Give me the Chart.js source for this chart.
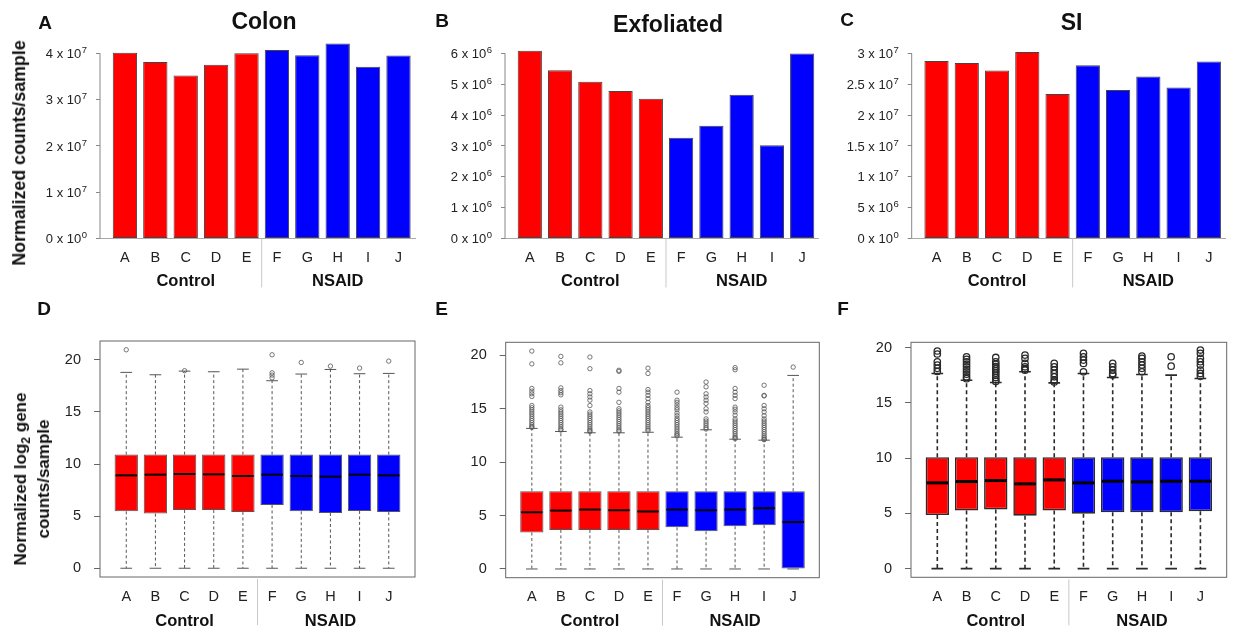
<!DOCTYPE html>
<html>
<head>
<meta charset="utf-8">
<script src="https://cdn.jsdelivr.net/npm/chart.js@4.4.1/dist/chart.umd.min.js"></script>
<style>
body { margin: 0; background: #fff; width: 1235px; height: 633px; overflow: hidden; position: relative; font-family: "Liberation Sans", Arial, sans-serif; }
canvas { position: absolute; left: 0; top: 0; }
.t { position: absolute; transform: translate(-50%, -50%); line-height: 1; font-weight: bold; color: #111; white-space: nowrap; }
.let { font-size: 19px; }
.ttl { font-size: 23px; }
.yt { font-size: 17.8px; transform: translate(-50%, -50%) rotate(-90deg); text-align: center; }
.yt2 { font-size: 17px; line-height: 23px; transform: translate(-50%, -50%) rotate(-90deg); text-align: center; }
.yt2 sub { font-size: 12px; line-height: 0; }
</style>
</head>
<body>
<canvas id="cA" width="1235" height="633"></canvas>
<canvas id="cB" width="1235" height="633"></canvas>
<canvas id="cC" width="1235" height="633"></canvas>
<canvas id="cD" width="1235" height="633"></canvas>
<canvas id="cE" width="1235" height="633"></canvas>
<canvas id="cF" width="1235" height="633"></canvas>

<div class="t let" style="left:45px;top:21.5px">A</div>
<div class="t let" style="left:442px;top:19.7px">B</div>
<div class="t let" style="left:847px;top:19.3px">C</div>
<div class="t let" style="left:44px;top:308px">D</div>
<div class="t let" style="left:441.5px;top:308px">E</div>
<div class="t let" style="left:843px;top:308px">F</div>

<div class="t ttl" style="left:264px;top:21px">Colon</div>
<div class="t ttl" style="left:668px;top:24px">Exfoliated</div>
<div class="t ttl" style="left:1071.5px;top:22px">SI</div>

<div class="t yt" style="left:20px;top:153px">Normalized counts/sample</div>
<div class="t yt2" style="left:31.5px;top:479px">Normalized log<sub>2</sub> gene<br>counts/sample</div>

<script>
//tamaño de la pagina
var W = 1235;
var H = 633;
Chart.defaults.font.family = '"Liberation Sans", Arial, sans-serif';
Chart.defaults.color = '#222';

//muestras y grupos
var samples = [ 'A', 'B', 'C', 'D', 'E', 'F', 'G', 'H', 'I', 'J' ];
var sampleGroup = [ 'Control', 'Control', 'Control', 'Control', 'Control', 'NSAID', 'NSAID', 'NSAID', 'NSAID', 'NSAID' ];
var groupNames = [ 'Control', 'NSAID' ];

//conteos normalizados por muestra (paneles A, B, C)
var colonCounts = [ 4.01e7, 3.81e7, 3.52e7, 3.75e7, 4.00e7, 4.07e7, 3.96e7, 4.21e7, 3.71e7, 3.95e7 ];
var exfoCounts = [ 6.08e6, 5.45e6, 5.08e6, 4.78e6, 4.53e6, 3.26e6, 3.65e6, 4.66e6, 3.02e6, 5.99e6 ];
var siCounts = [ 2.876e7, 2.844e7, 2.72e7, 3.02e7, 2.34e7, 2.806e7, 2.406e7, 2.622e7, 2.444e7, 2.865e7 ];

//etiquetas del eje y: mantisa y exponente
var colonTicks = [ 0, 1e7, 2e7, 3e7, 4e7 ];
var colonTickBase = [ '0 x 10', '1 x 10', '2 x 10', '3 x 10', '4 x 10' ];
var colonTickExp = [ '0', '7', '7', '7', '7' ];
var exfoTicks = [ 0, 1e6, 2e6, 3e6, 4e6, 5e6, 6e6 ];
var exfoTickBase = [ '0 x 10', '1 x 10', '2 x 10', '3 x 10', '4 x 10', '5 x 10', '6 x 10' ];
var exfoTickExp = [ '0', '6', '6', '6', '6', '6', '6' ];
var siTicks = [ 0, 5e6, 1e7, 1.5e7, 2e7, 2.5e7, 3e7 ];
var siTickBase = [ '0 x 10', '5 x 10', '1 x 10', '1.5 x 10', '2 x 10', '2.5 x 10', '3 x 10' ];
var siTickExp = [ '0', '6', '7', '7', '7', '7', '7' ];

//log2 por gen (paneles D, E, F)
var boxTicks = [ 0, 5, 10, 15, 20 ];

var colonQ1 = [ 5.46, 5.24, 5.59, 5.59, 5.40, 6.07, 5.46, 5.30, 5.50, 5.40 ];
var colonMed = [ 8.91, 8.98, 9.04, 9.01, 8.85, 8.98, 8.85, 8.79, 8.98, 8.91 ];
var colonQ3 = [ 10.9, 10.9, 10.9, 10.9, 10.9, 10.9, 10.9, 10.9, 10.9, 10.9 ];
var colonLo = [ 0, 0, 0, 0, 0, 0, 0, 0, 0, 0 ];
var colonHi = [ 18.79, 18.56, 18.91, 18.85, 19.10, 17.99, 18.63, 19.07, 18.66, 18.69 ];
var colonOut = [
  [ 20.96 ], [ ], [ 18.95 ], [ ], [ ],
  [ 18.27, 18.53, 18.75, 20.48 ], [ 19.74 ], [ 19.39 ], [ 19.2 ], [ 19.87 ]
];

var exfoQ1 = [ 3.41, 3.66, 3.66, 3.66, 3.66, 3.90, 3.53, 4.00, 4.10, 0 ];
var exfoMed = [ 5.31, 5.47, 5.56, 5.50, 5.38, 5.56, 5.50, 5.56, 5.69, 4.40 ];
var exfoQ3 = [ 7.28, 7.28, 7.28, 7.28, 7.28, 7.28, 7.28, 7.28, 7.28, 7.28 ];
var exfoLo = [ 0, 0, 0, 0, 0, 0, 0, 0, 0, 0 ];
var exfoHi = [ 13.16, 12.87, 12.75, 12.75, 12.80, 12.34, 13.03, 12.15, 12.06, 18.12 ];
var exfoOut = [
  [ 20.4, 19.2, 16.9, 16.65, 16.4, 16.15, 15.3, 15.1, 14.9, 14.7, 14.5, 14.3, 14.1, 13.9, 13.7, 13.5, 13.35, 13.25 ],
  [ 19.9, 19.3, 16.95, 16.7, 16.5, 16.3, 15.15, 14.9, 14.7, 14.5, 14.3, 14.1, 13.9, 13.7, 13.5, 13.3, 13.1, 13.0 ],
  [ 19.84, 18.75, 16.7, 16.4, 16.1, 15.8, 15.3, 14.7, 14.5, 14.3, 14.1, 13.9, 13.7, 13.5, 13.3, 13.1, 12.95, 12.85 ],
  [ 18.6, 18.5, 16.9, 16.55, 15.6, 15.0, 14.8, 14.6, 14.4, 14.2, 14.0, 13.8, 13.6, 13.4, 13.2, 13.0, 12.9 ],
  [ 18.8, 18.3, 16.8, 16.55, 16.25, 15.95, 15.6, 15.3, 15.1, 14.9, 14.7, 14.5, 14.3, 14.1, 13.9, 13.7, 13.5, 13.3, 13.1, 12.95 ],
  [ 16.55, 15.8, 15.6, 15.35, 15.1, 14.9, 14.6, 14.35, 14.1, 13.9, 13.7, 13.5, 13.3, 13.1, 12.9, 12.7, 12.55, 12.45 ],
  [ 17.5, 17.05, 16.4, 16.1, 15.8, 15.5, 15.0, 14.7, 14.05, 13.85, 13.65, 13.45, 13.25, 13.1 ],
  [ 18.85, 18.65, 16.9, 16.55, 16.25, 15.95, 15.15, 14.95, 14.7, 14.4, 14.05, 13.85, 13.65, 13.45, 13.25, 13.05, 12.85, 12.65, 12.45, 12.3, 12.2 ],
  [ 17.2, 16.25, 16.2, 15.3, 15.0, 14.7, 14.35, 14.05, 13.85, 13.65, 13.45, 13.25, 13.05, 12.85, 12.65, 12.45, 12.3, 12.15, 12.1 ],
  [ 18.9 ]
];

var siQ1 = [ 4.85, 5.27, 5.36, 4.79, 5.27, 4.97, 5.09, 5.09, 5.09, 5.20 ];
var siMed = [ 7.76, 7.88, 7.97, 7.67, 8.03, 7.76, 7.91, 7.85, 7.91, 7.91 ];
var siQ3 = [ 10.09, 10.09, 10.09, 10.09, 10.09, 10.09, 10.09, 10.09, 10.09, 10.09 ];
var siLo = [ 0, 0, 0, 0, 0, 0, 0, 0, 0, 0 ];
var siHi = [ 17.67, 17.06, 16.85, 17.82, 16.82, 17.67, 17.30, 17.58, 17.52, 17.21 ];
var siOut = [
  [ 19.7, 19.43, 18.73, 18.43, 18.13, 17.85 ],
  [ 19.18, 18.95, 18.73, 18.5, 18.27, 18.05, 17.82, 17.6, 17.36, 17.2 ],
  [ 19.12, 18.73, 18.5, 18.3, 18.1, 17.9, 17.7, 17.5, 17.3, 17.1, 16.95 ],
  [ 19.33, 19.03, 18.58, 18.27, 18.1, 17.97 ],
  [ 18.58, 18.27, 17.97, 17.67, 17.36, 17.06, 16.9 ],
  [ 19.5, 19.18, 18.88, 18.58, 17.82 ],
  [ 18.58, 18.27, 17.97, 17.67, 17.52 ],
  [ 19.24, 19.03, 18.73, 18.43, 18.13, 17.82 ],
  [ 19.18, 18.33 ],
  [ 19.79, 19.49, 19.03, 18.73, 18.43, 17.97, 17.67, 17.42 ]
];

//colores por grupo
var groupColor = { 'Control': '#ff0000', 'NSAID': '#0000ff' };
var sampleColors = sampleGroup.map( g => groupColor[ g ] );
var fontFam = '"Liberation Sans", Arial, sans-serif';

//plugin estilo R: bigotes, medianas, marco, grupos
var rPlugin =
{
  id: 'rstyle',
  beforeDatasetsDraw: function ( chart, args, o )
  {
    if ( !o.box ) return;
    var ctx = chart.ctx, xs = chart.scales.x, ys = chart.scales.y;
    var half = ( xs.getPixelForValue( 2 ) - xs.getPixelForValue( 1 ) ) * 0.8 * 0.25;
    ctx.save();
    ctx.strokeStyle = o.whiskerColor;
    ctx.lineWidth = o.whiskerWidth;
    o.box.q1.forEach( ( q1, i ) =>
    {
      var x = xs.getPixelForValue( i + 1 );
      ctx.setLineDash( o.dash );
      ctx.beginPath( );
      ctx.moveTo( x, ys.getPixelForValue( o.box.q3[ i ] ) );
      ctx.lineTo( x, ys.getPixelForValue( o.box.hi[ i ] ) );
      ctx.moveTo( x, ys.getPixelForValue( q1 ) );
      ctx.lineTo( x, ys.getPixelForValue( o.box.lo[ i ] ) );
      ctx.stroke( );
      ctx.setLineDash( [ ] );
      ctx.beginPath( );
      [ o.box.hi[ i ], o.box.lo[ i ] ].forEach( v =>
      {
        var y = ys.getPixelForValue( v );
        ctx.moveTo( x - half, y );
        ctx.lineTo( x + half, y );
      });
      ctx.stroke( );
    });
    ctx.restore( );
  },
  afterDatasetsDraw: function ( chart, args, o )
  {
    if ( !o.box ) return;
    var ctx = chart.ctx, xs = chart.scales.x, ys = chart.scales.y;
    var half = ( xs.getPixelForValue( 2 ) - xs.getPixelForValue( 1 ) ) * 0.8 * 0.5;
    ctx.save( );
    ctx.strokeStyle = '#000';
    ctx.lineWidth = o.medianWidth;
    o.box.med.forEach( ( m, i ) =>
    {
      var x = xs.getPixelForValue( i + 1 );
      var y = ys.getPixelForValue( m );
      ctx.beginPath( );
      ctx.moveTo( x - half + 1, y );
      ctx.lineTo( x + half - 1, y );
      ctx.stroke( );
    });
    ctx.restore( );
  },
  afterDraw: function ( chart, args, o )
  {
    var ctx = chart.ctx, xs = chart.scales.x, ys = chart.scales.y, a = chart.chartArea;
    ctx.save( );
    if ( o.frame )
    {
      ctx.strokeStyle = '#666';
      ctx.lineWidth = 1;
      ctx.strokeRect( a.left, a.top, a.right - a.left, a.bottom - a.top );
    }
    if ( o.yLine )
    {
      ctx.strokeStyle = '#888';
      ctx.lineWidth = 1;
      ctx.beginPath( );
      ctx.moveTo( a.left, ys.getPixelForValue( o.yLine[ 0 ] ) );
      ctx.lineTo( a.left, ys.getPixelForValue( o.yLine[ o.yLine.length - 1 ] ) );
      ctx.stroke( );

      //etiquetas con exponente
      var right = a.left - 4 - 9;
      ctx.fillStyle = '#222';
      ctx.textBaseline = 'alphabetic';
      ctx.textAlign = 'left';
      o.yLine.forEach( ( v, i ) =>
      {
        var y = ys.getPixelForValue( v ) + 4.7;
        ctx.font = '9.5px ' + fontFam;
        var wExp = ctx.measureText( o.exp[ i ] ).width;
        ctx.font = '13px ' + fontFam;
        var wBase = ctx.measureText( o.base[ i ] ).width;
        ctx.fillText( o.base[ i ], right - wExp - wBase - 0.5, y );
        ctx.font = '9.5px ' + fontFam;
        ctx.fillText( o.exp[ i ], right - wExp, y - 5 );
      });
    }
    //separador y nombres de grupo
    var lastCtrl = sampleGroup.lastIndexOf( groupNames[ 0 ] ) + 1;
    var xSep = xs.getPixelForValue( lastCtrl + 0.5 );
    ctx.strokeStyle = '#c8c8c8';
    ctx.lineWidth = 1;
    ctx.beginPath( );
    ctx.moveTo( xSep, o.sepTop );
    ctx.lineTo( xSep, o.sepBottom );
    ctx.stroke( );
    ctx.fillStyle = '#111';
    ctx.font = 'bold 16.5px ' + fontFam;
    ctx.textAlign = 'center';
    ctx.textBaseline = 'middle';
    groupNames.forEach( g =>
    {
      var idx = [ ];
      sampleGroup.forEach( ( s, i ) => { if ( s == g ) idx.push( i + 1 ); } );
      var mid = ( idx[ 0 ] + idx[ idx.length - 1 ] ) / 2;
      ctx.fillText( g, xs.getPixelForValue( mid ), o.groupY );
    });
    ctx.restore( );
  }
};

function xScale( area, min, max, pad )
{
  return {
    type: 'linear',
    min: min,
    max: max,
    offset: false,
    afterBuildTicks: s => { s.ticks = samples.map( ( l, i ) => ( { value: i + 1 } ) ); },
    afterFit: s => { s.height = H - area.bottom; },
    ticks: { callback: v => samples[ v - 1 ], color: '#222', font: { size: 14.5 }, padding: pad, maxRotation: 0, autoSkip: false },
    grid: { display: false, drawTicks: false, offset: false },
    border: { display: false }
  };
}

function barPanel( id, values, ticks, tickBase, tickExp, yMax, area )
{
  var x = xScale( area, 0.18, 10.55, 11 );
  x.border = { display: true, color: '#aaa', width: 1 };

  new Chart( document.getElementById( id ),
  {
    type: 'bar',
    data:
    {
      datasets:
      [
        {
          data: values.map( ( v, i ) => ( { x: i + 1, y: v } ) ),
          backgroundColor: sampleColors,
          borderColor: '#444',
          borderWidth: 1,
          borderSkipped: false,
          barPercentage: 1,
          categoryPercentage: 0.8,
        }
      ]
    },
    options:
    {
      responsive: false,
      animation: false,
      events: [ ],
      layout: { padding: { left: 0, top: area.top, right: W - area.right, bottom: 0 } },
      plugins:
      {
        legend: { display: false },
        tooltip: { enabled: false },
        rstyle: { yLine: ticks, base: tickBase, exp: tickExp, sepTop: area.bottom, sepBottom: area.bottom + 49, groupY: area.bottom + 42.5 }
      },
      scales:
      {
        x: x,
        y:
        {
          min: 0,
          max: yMax,
          afterBuildTicks: s => { s.ticks = ticks.map( v => ( { value: v } ) ); },
          afterFit: s => { s.width = area.left; },
          ticks: { display: false },
          grid: { drawOnChartArea: false, drawTicks: true, tickLength: 4, color: '#888' },
          border: { display: false }
        }
      }
    },
    plugins: [ rPlugin ]
  });
}

function boxPanel( id, q1, med, q3, lo, hi, out, yMin, yMax, area, st )
{
  var points = [ ];
  out.forEach( ( list, i ) => { list.forEach( v => points.push( { x: i + 1, y: v } ) ); } );

  new Chart( document.getElementById( id ),
  {
    type: 'bar',
    data:
    {
      datasets:
      [
        {
          type: 'scatter',
          data: points,
          pointRadius: st.r,
          pointBorderWidth: st.pw,
          pointBorderColor: st.line,
          pointBackgroundColor: 'rgba(0,0,0,0)',
          order: 0
        },
        {
          data: q1.map( ( v, i ) => ( { x: i + 1, y: [ v, q3[ i ] ] } ) ),
          backgroundColor: sampleColors,
          borderColor: st.line,
          borderWidth: st.bw,
          borderSkipped: false,
          barPercentage: 1,
          categoryPercentage: 0.8,
          order: 1
        }
      ]
    },
    options:
    {
      responsive: false,
      animation: false,
      events: [ ],
      layout: { padding: { left: 0, top: area.top, right: W - area.right, bottom: 0 } },
      plugins:
      {
        legend: { display: false },
        tooltip: { enabled: false },
        rstyle:
        {
          box: { q1: q1, med: med, q3: q3, lo: lo, hi: hi },
          whiskerColor: st.line, whiskerWidth: st.ww, dash: st.dash, medianWidth: st.mw,
          frame: true, sepTop: area.bottom + 2, sepBottom: area.bottom + 48, groupY: area.bottom + 44
        }
      },
      scales:
      {
        x: xScale( area, 0.1, 10.9, 11 ),
        y:
        {
          min: yMin,
          max: yMax,
          afterBuildTicks: s => { s.ticks = boxTicks.map( v => ( { value: v } ) ); },
          afterFit: s => { s.width = area.left; },
          ticks: { color: '#222', font: { size: 14.5 }, padding: 13, autoSkip: false },
          grid: { drawOnChartArea: false, drawTicks: true, tickLength: 6, color: '#666' },
          border: { display: false }
        }
      }
    },
    plugins: [ rPlugin ]
  });
}

var thin = { r: 2.2, pw: 0.8, line: '#555', bw: 1, ww: 1, dash: [ 3, 2.5 ], mw: 2 };
var bold = { r: 3.2, pw: 1.3, line: '#2a2a2a', bw: 1.6, ww: 1.6, dash: [ 4, 3 ], mw: 3 };

barPanel( 'cA', colonCounts, colonTicks, colonTickBase, colonTickExp, 4.287e7, { left: 100, right: 415.2, top: 40, bottom: 238.5 } );
barPanel( 'cB', exfoCounts, exfoTicks, exfoTickBase, exfoTickExp, 6.43e6, { left: 505, right: 818.8, top: 40, bottom: 238.5 } );
barPanel( 'cC', siCounts, siTicks, siTickBase, siTickExp, 3.215e7, { left: 911.7, right: 1225.5, top: 40, bottom: 238.5 } );

boxPanel( 'cD', colonQ1, colonMed, colonQ3, colonLo, colonHi, colonOut, -0.84, 21.8, { left: 100, right: 415, top: 341, bottom: 577 }, thin );
boxPanel( 'cE', exfoQ1, exfoMed, exfoQ3, exfoLo, exfoHi, exfoOut, -0.816, 21.22, { left: 505.7, right: 819.3, top: 342.3, bottom: 577.7 }, thin );
boxPanel( 'cF', siQ1, siMed, siQ3, siLo, siHi, siOut, -0.79, 20.49, { left: 911, right: 1226.7, top: 342.3, bottom: 577.3 }, bold );
</script>
</body>
</html>
